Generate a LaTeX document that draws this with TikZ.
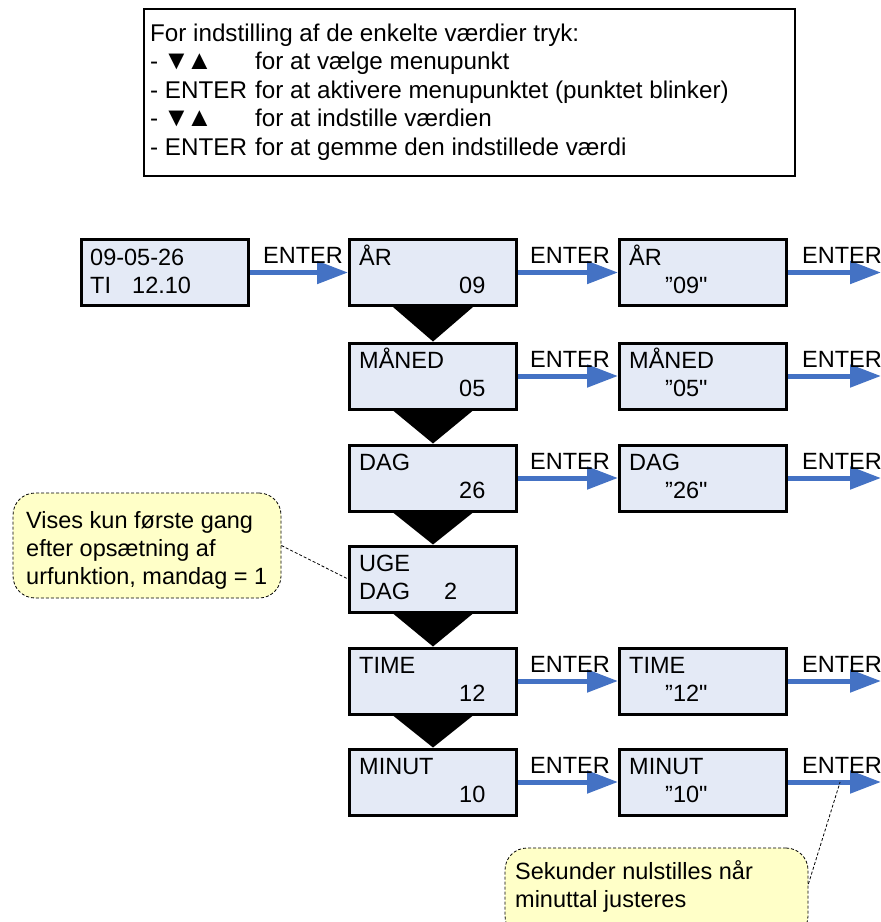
\documentclass[tikz,border=0pt]{standalone}
\usepackage{fontspec}
\newfontfamily\diagfont{Liberation Sans}
\usetikzlibrary{arrows.meta,calc}
\definecolor{lcdfill}{RGB}{228,234,246}
\definecolor{arrblue}{RGB}{68,114,196}
\definecolor{notefill}{RGB}{255,255,200}
\newcommand\lcdbox[6]{%
  \node[lcd] (#1) at (#2,#3) {};
  \node[txt] at ($(#1.west)+(11,-7.5)$) {#4};
  \node[txt] at ($(#1.west)+(#6,20.5)$) {#5};
}
\begin{document}
\begin{tikzpicture}[x=1pt,y=-1pt,
  lcd/.style={draw, line width=3pt, fill=lcdfill, minimum width=167pt, minimum height=66pt, inner sep=0pt},
  txt/.style={anchor=base west, inner sep=0pt, font=\diagfont\fontsize{23.5}{28}\selectfont},
  itxt/.style={anchor=base west, inner sep=0pt, font=\diagfont\fontsize{24.2}{28}\selectfont},
  sym/.style={anchor=base west, inner sep=0pt, font=\diagfont\fontsize{27}{28}\selectfont},
  arr/.style={draw=arrblue, line width=5pt, -{Triangle[length=31pt,width=22pt]}},
  tri/.style={fill=black},
  note/.style={draw, dash pattern=on 3pt off 2pt, line width=0.8pt, fill=notefill, rounded corners=22pt, inner sep=0pt},
  lead/.style={draw, dash pattern=on 3pt off 2pt, line width=0.8pt},
  infobox/.style={draw, line width=2.5pt, inner sep=0pt}
]
\useasboundingbox (0,0) rectangle (881,922);

% info box
\node[infobox, minimum width=651pt, minimum height=167pt] (info) at (469.5,92.5) {};
\node[itxt] (i1) at (150,41) {For indstilling af de enkelte værdier tryk:};
\node[itxt] (i2) at (150,69) {-};
\node[sym] (i2s) at (163,69) {▼};
\node[sym] (i2t) at (186,69) {▲};
\node[itxt] (i2b) at (255,69) {for at vælge menupunkt};
\node[itxt] (i3) at (150,98) {- ENTER};
\node[itxt] (i3b) at (255,98) {for at aktivere menupunktet (punktet blinker)};
\node[itxt] (i4) at (150,126) {-};
\node[sym] (i4s) at (163,126) {▼};
\node[sym] (i4t) at (186,126) {▲};
\node[itxt] (i4b) at (255,126) {for at indstille værdien};
\node[itxt] (i5) at (150,155) {- ENTER};
\node[itxt] (i5b) at (255,155) {for at gemme den indstillede værdi};

% boxes
\node[lcd] (a0) at (165,272.5) {};
\node[txt] (a0t1) at ($(a0.west)+(10,-7.5)$) {09-05-26};
\node[txt] (a0t2) at ($(a0.west)+(10,20.5)$) {TI};
\node[txt] (a0t3) at ($(a0.west)+(52,20.5)$) {12.10};

\lcdbox{a1}{433}{272.5}{ÅR}{09}{111}
\lcdbox{a2}{703}{272.5}{ÅR}{”09"}{47}
\lcdbox{b1}{433}{376}{MÅNED}{05}{111}
\lcdbox{b2}{703}{376}{MÅNED}{”05"}{47}
\lcdbox{c1}{433}{478}{DAG}{26}{111}
\lcdbox{c2}{703}{478}{DAG}{”26"}{47}
\lcdbox{d1}{433}{579}{UGE}{DAG}{11}
\node[txt] (d1v) at ($(d1.west)+(96,20.5)$) {2};
\lcdbox{e1}{433}{681}{TIME}{12}{111}
\lcdbox{e2}{703}{681}{TIME}{”12"}{47}
\lcdbox{f1}{433}{782}{MINUT}{10}{111}
\lcdbox{f2}{703}{782}{MINUT}{”10"}{47}

% down triangles
\foreach \u/\v in {a1/b1,b1/c1,c1/d1,d1/e1,e1/f1}{
  \fill[tri] ($(\u.south)+(-40,0)$) -- ($(\u.south)+(40,0)$) -- (\v.north) -- cycle;
}

% arrow ends
\coordinate (aend) at (881,272.5);
\coordinate (bend) at (881,376);
\coordinate (cend) at (881,478);
\coordinate (eend) at (881,681);
\coordinate (fend) at (881,782);

\draw[arr] (a0) -- (a1);
\draw[arr] (a1) -- (a2);
\draw[arr] (a2.east) -- (aend);
\draw[arr] (b1) -- (b2);
\draw[arr] (b2.east) -- (bend);
\draw[arr] (c1) -- (c2);
\draw[arr] (c2.east) -- (cend);
\draw[arr] (e1) -- (e2);
\draw[arr] (e2.east) -- (eend);
\draw[arr] (f1) -- (f2);
\draw[arr] (f2.east) -- coordinate[pos=0.56] (mp) (fend);

% ENTER labels
\foreach \y/\n in {272.5/a,376/b,478/c,681/e,782/f}{
  \node[txt] (\n L2) at (530,\y-9) {ENTER};
  \node[txt] (\n L3) at (802,\y-9) {ENTER};
}
\node[txt] (aL1) at (263,263.5) {ENTER};

% callouts
\node[note, minimum width=268pt, minimum height=105pt] (n1) at (147,545.5) {};
\node[txt] (n1a) at (26,528) {Vises kun første gang};
\node[txt] (n1b) at (26,556) {efter opsætning af};
\node[txt] (n1c) at (26,584) {urfunktion, mandag = 1};
\draw[lead] (n1.east) -- (d1.west);

\node[note, minimum width=303pt, minimum height=90pt] (n2) at (656.5,893) {};
\node[txt] (n2a) at (515,879) {Sekunder nulstilles når};
\node[txt] (n2b) at (515,907) {minuttal justeres};
\draw[lead] ($(n2.east)+(0,-9)$) -- (mp);
\end{tikzpicture}
\end{document}
